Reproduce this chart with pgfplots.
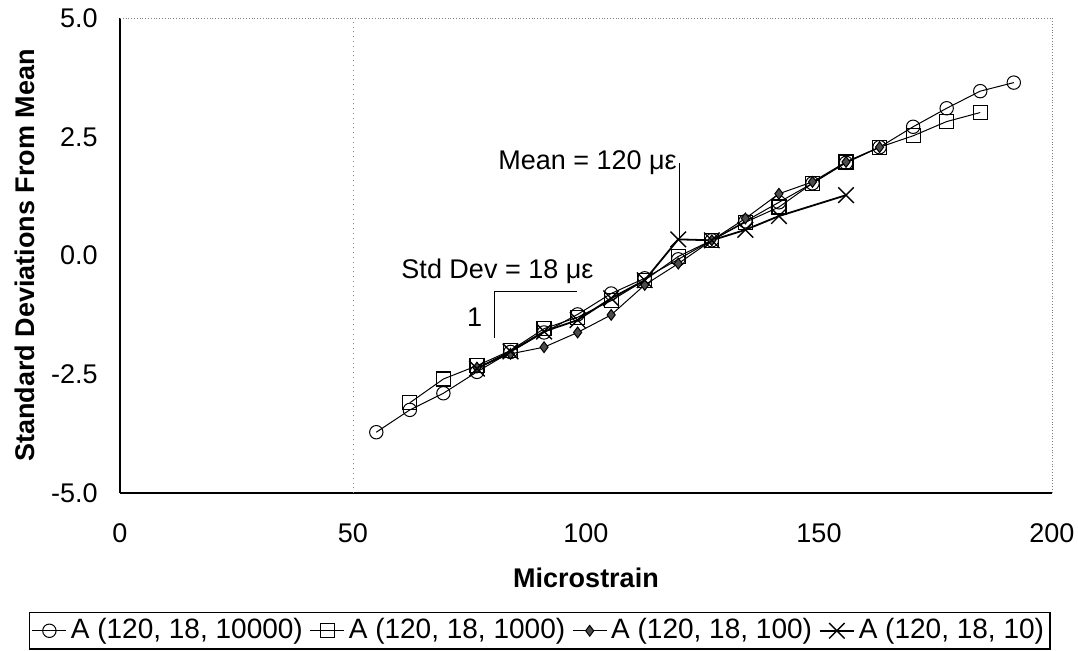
\documentclass[border=0pt]{standalone}
\usepackage{pgfplots}
\pgfplotsset{compat=1.18}
\usepackage{fontspec}
\setmainfont{Liberation Sans}
\begin{document}
\begin{tikzpicture}
\fontsize{13.5}{16}\selectfont
\useasboundingbox (0,0) rectangle (539pt,-325pt);
\begin{axis}[
  at={(60pt,-246.5pt)}, anchor=south west,
  scale only axis,
  width=466pt, height=237.5pt,
  xmin=0, xmax=200, ymin=-5, ymax=5,
  xtick={0,50,100,150,200},
  ytick={-5,-2.5,0,2.5,5},
  y tick label style={/pgf/number format/fixed, /pgf/number format/fixed zerofill, /pgf/number format/precision=1},
  /pgf/number format/assume math mode=true,
  major tick length=0pt,
  axis x line*=bottom, axis y line*=left,
  axis line style={black, line width=0.6pt, -},
  tick label style={font=\fontsize{13.5}{16}\selectfont},
  xticklabel style={anchor=base, inner sep=0pt, yshift=-24.8pt},
  yticklabel style={anchor=east, inner sep=0pt, xshift=-11pt},
  xlabel={\textbf{Microstrain}},
  ylabel={\textbf{Standard Deviations From Mean}},
  label style={font=\fontsize{13.5}{16}\selectfont},
  xlabel style={at={(axis description cs:0.5,0)}, anchor=center, inner sep=0pt, yshift=-42.5pt},
  ylabel style={at={([xshift=-47.5pt]axis description cs:0,0.5)}, anchor=center, inner sep=0pt},
  legend columns=4,
  legend image code/.code={\draw[mark repeat=2,mark phase=2,#1] plot coordinates {(0pt,0pt) (8.5pt,0pt) (17pt,0pt)};},
  legend style={at={(0.4506,-0.2505)}, anchor=north, draw=black, line width=0.6pt,
    font=\fontsize{14}{16}\selectfont, inner xsep=1pt, inner ysep=1pt,
    /tikz/every even column/.append style={column sep=1.5pt}},
  legend cell align=left,
  clip=false,
]
\draw[dotted, gray] (axis cs:50,-5) -- (axis cs:50,5);
\draw[densely dotted, gray] (rel axis cs:0,1) -- (rel axis cs:1,1) -- (rel axis cs:1,0);

\addplot[black, line width=0.5pt, mark=o, mark size=3.35pt, mark options={fill=white, line width=0.5pt}] coordinates {
(55.0,-3.72) (62.2,-3.25) (69.4,-2.90) (76.6,-2.45) (83.8,-2.03) (91.0,-1.62)
(98.2,-1.24) (105.4,-0.80) (112.6,-0.48) (119.8,-0.08) (127.0,0.32) (134.2,0.72)
(141.4,1.12) (148.6,1.52) (155.8,1.95) (163.0,2.28) (170.2,2.71) (177.4,3.10)
(184.6,3.46) (191.8,3.64)};
\addlegendentry{A (120, 18, 10000)}

\addplot[black, line width=0.5pt, mark=square, mark size=3.5pt, mark options={fill=white, line width=0.6pt}] coordinates {
(62.2,-3.10) (69.4,-2.60) (76.6,-2.32) (83.8,-2.00) (91.0,-1.54) (98.2,-1.30)
(105.4,-0.95) (112.6,-0.52) (119.8,-0.02) (127.0,0.32) (134.2,0.70) (141.4,1.02)
(148.6,1.52) (155.8,1.97) (163.0,2.28) (170.2,2.52) (177.4,2.82) (184.6,3.01)};
\addlegendentry{A (120, 18, 1000)}

\addplot[black, line width=0.5pt, mark=diamond*, mark size=2.7pt, mark options={fill=black!70, draw=black}] coordinates {
(76.6,-2.36) (83.8,-2.07) (91.0,-1.93) (98.2,-1.62) (105.4,-1.25) (112.6,-0.62)
(119.8,-0.17) (127.0,0.32) (134.2,0.78) (141.4,1.30) (148.6,1.55) (155.8,1.97)
(163.0,2.28)};
\addlegendentry{A (120, 18, 100)}

\addplot[black, line width=0.9pt, mark=x, mark size=5.5pt, mark options={line width=0.7pt}] coordinates {
(76.6,-2.38) (83.8,-2.02) (91.0,-1.60) (98.2,-1.36) (105.4,-0.90) (112.6,-0.52)
(119.8,0.34) (127.0,0.32) (134.2,0.54) (141.4,0.83) (155.8,1.27)};
\addlegendentry{A (120, 18, 10)}

\draw[black, line width=0.5pt] (axis cs:120,1.95) -- (axis cs:120,0.36);
\node[anchor=east, inner sep=1pt] at (axis cs:120,1.95) {Mean = 120 με};
\node[anchor=center, inner sep=0pt] at (axis cs:81,-0.34) {Std Dev = 18 με};
\draw[black, line width=0.6pt] (axis cs:80.3,-1.74) -- (axis cs:80.3,-0.75) -- (axis cs:98.1,-0.75);
\node[anchor=center, inner sep=0pt] at (axis cs:76.1,-1.29) {1};
\end{axis}
\end{tikzpicture}
\end{document}
